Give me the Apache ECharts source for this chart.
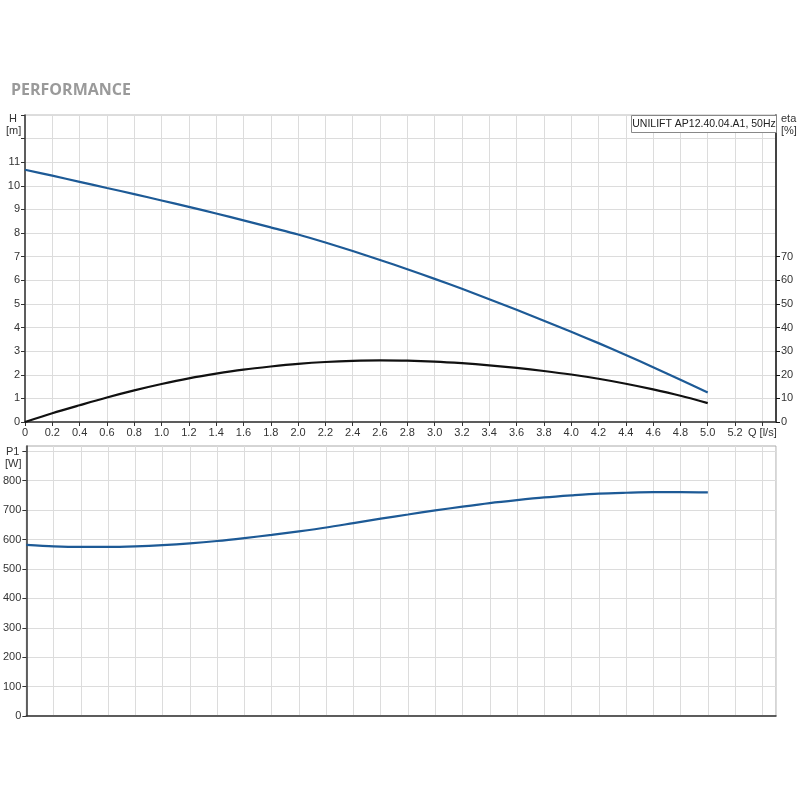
<!DOCTYPE html>
<html>
<head>
<meta charset="utf-8">
<script src="https://cdn.jsdelivr.net/npm/echarts@6/dist/echarts.min.js"></script>
<style>html,body{margin:0;padding:0;background:#fff}#c{width:800px;height:800px}</style>
</head>
<body>
<div id="c"></div>
<script>
const qValues = [0,0.2,0.4,0.6,0.8,1.0,1.2,1.4,1.6,1.8,2.0,2.2,2.4,2.6,2.8,3.0,3.2,3.4,3.6,3.8,4.0,4.2,4.4,4.6,4.8,5.0];
const headValues = [10.68,10.43,10.17,9.91,9.65,9.38,9.11,8.83,8.54,8.24,7.94,7.60,7.24,6.86,6.47,6.06,5.64,5.20,4.75,4.29,3.82,3.34,2.84,2.32,1.79,1.25];
const etaValues = [0,3.7,7.1,10.4,13.4,16.1,18.5,20.5,22.2,23.5,24.6,25.4,25.9,26.1,26.0,25.6,24.9,24.0,22.9,21.6,20.1,18.3,16.2,13.8,11.1,8.0];
const powerValues = [582,577,575,575,577,581,587,595,605,616,628,641,656,671,685,699,712,724,734,743,750,756,759,761,761,760];
const qTickLabels = [0,0.2,0.4,0.6,0.8,1.0,1.2,1.4,1.6,1.8,2.0,2.2,2.4,2.6,2.8,3.0,3.2,3.4,3.6,3.8,4.0,4.2,4.4,4.6,4.8,5.0,5.2,5.4];
const headTickLabels = [0,1,2,3,4,5,6,7,8,9,10,11];
const etaTickLabels = [0,10,20,30,40,50,60,70];
const powerTickLabels = [0,100,200,300,400,500,600,700,800];
const seriesName = 'UNILIFT AP12.40.04.A1, 50Hz';

const pairs = (vals) => qValues.map((q, i) => [q, vals[i]]);
const FONT = 'Liberation Sans, Arial, sans-serif';
const lbl = { fontFamily: FONT, fontSize: 11, color: '#333' };

const chart = echarts.init(document.getElementById('c'), null, { renderer: 'canvas' });
chart.setOption({
  animation: false,
  backgroundColor: '#fff',
  title: {
    text: 'PERFORMANCE', left: 6, top: 77,
    textStyle: { fontFamily: 'Open Sans, sans-serif', fontSize: 16, fontWeight: 'bold', color: '#9a9a9a' }
  },
  grid: [
    { left: 25, top: 115, width: 751, height: 307, show: true, borderColor: '#bbb', borderWidth: 1 },
    { left: 25, top: 446, width: 751, height: 270, show: true, borderColor: '#aaa', borderWidth: 1 }
  ],
  xAxis: [
    {
      gridIndex: 0, type: 'value', min: 0, max: 5.5, interval: 0.2,
      axisLine: { show: true, onZero: false, lineStyle: { color: '#333', width: 1.5 } },
      axisTick: { show: true, length: 4, lineStyle: { color: '#333' }, customValues: qTickLabels },
      axisLabel: Object.assign({}, lbl, {
        margin: 5, customValues: qTickLabels,
        formatter: (v) => Math.abs(v - 5.4) < 1e-6 ? 'Q [l/s]' : (v === 0 ? '0' : v.toFixed(1))
      }),
      splitLine: { show: true, lineStyle: { color: '#dcdcdc', width: 1 } }
    },
    {
      gridIndex: 1, type: 'value', min: 0, max: 5.5, interval: 0.2,
      axisLine: { show: true, onZero: false, lineStyle: { color: '#333', width: 1.5 } },
      axisTick: { show: false },
      axisLabel: { show: false },
      splitLine: { show: true, lineStyle: { color: '#dcdcdc', width: 1 } }
    }
  ],
  yAxis: [
    {
      gridIndex: 0, type: 'value', min: 0, max: 13, interval: 1, position: 'left',
      axisLine: { show: true, onZero: false, lineStyle: { color: '#333', width: 1.5 } },
      axisTick: { show: true, length: 4, lineStyle: { color: '#333' } },
      axisLabel: Object.assign({}, lbl, { margin: 5, customValues: headTickLabels }),
      splitLine: { show: true, lineStyle: { color: '#dcdcdc', width: 1 } }
    },
    {
      gridIndex: 0, type: 'value', min: 0, max: 130, interval: 10, position: 'right',
      axisLine: { show: true, onZero: false, lineStyle: { color: '#111', width: 1.5 } },
      axisTick: { show: true, length: 4, lineStyle: { color: '#111' }, customValues: etaTickLabels },
      axisLabel: Object.assign({}, lbl, { margin: 5, customValues: etaTickLabels }),
      splitLine: { show: false }
    },
    {
      gridIndex: 1, type: 'value', min: 0, max: 918, interval: 100, position: 'left',
      axisLine: { show: true, onZero: false, lineStyle: { color: '#333', width: 1.5 } },
      axisTick: { show: true, length: 4, lineStyle: { color: '#333' }, customValues: [0,100,200,300,400,500,600,700,800,900] },
      axisLabel: Object.assign({}, lbl, { margin: 5, customValues: powerTickLabels }),
      splitLine: { show: true, lineStyle: { color: '#dcdcdc', width: 1 } }
    }
  ],
  series: [
    {
      name: seriesName, type: 'line', xAxisIndex: 0, yAxisIndex: 0,
      data: pairs(headValues), smooth: 0.3, showSymbol: false,
      lineStyle: { color: '#1d5a96', width: 2.2 }, z: 5
    },
    {
      name: 'eta', type: 'line', xAxisIndex: 0, yAxisIndex: 1,
      data: pairs(etaValues), smooth: 0.3, showSymbol: false,
      lineStyle: { color: '#111', width: 2.2 }, z: 4
    },
    {
      name: 'P1', type: 'line', xAxisIndex: 1, yAxisIndex: 2,
      data: pairs(powerValues), smooth: 0.3, showSymbol: false,
      lineStyle: { color: '#1d5a96', width: 2.2 }, z: 5
    }
  ],
  graphic: [
    { type: 'text', left: 9, top: 113, z: 100, style: { text: 'H', font: '11px ' + FONT, fill: '#333' } },
    { type: 'text', left: 6, top: 125, z: 100, style: { text: '[m]', font: '11px ' + FONT, fill: '#333' } },
    { type: 'text', left: 781, top: 113, z: 100, style: { text: 'eta', font: '11px ' + FONT, fill: '#333' } },
    { type: 'text', left: 781, top: 125, z: 100, style: { text: '[%]', font: '11px ' + FONT, fill: '#333' } },
    { type: 'text', left: 6, top: 446, z: 100, style: { text: 'P1', font: '11px ' + FONT, fill: '#333' } },
    { type: 'text', left: 5, top: 458, z: 100, style: { text: '[W]', font: '11px ' + FONT, fill: '#333' } },
    {
      type: 'group', left: 631, top: 115, z: 100,
      children: [
        { type: 'rect', z: 100, shape: { x: 0, y: 0, width: 145, height: 17 }, style: { fill: '#fff', stroke: '#888', lineWidth: 1 } },
        { type: 'text', z: 101, x: 72.5, y: 9, style: { text: seriesName, font: '10.5px ' + FONT, fill: '#222', align: 'center', verticalAlign: 'middle' } }
      ]
    }
  ]
});
</script>
</body>
</html>
